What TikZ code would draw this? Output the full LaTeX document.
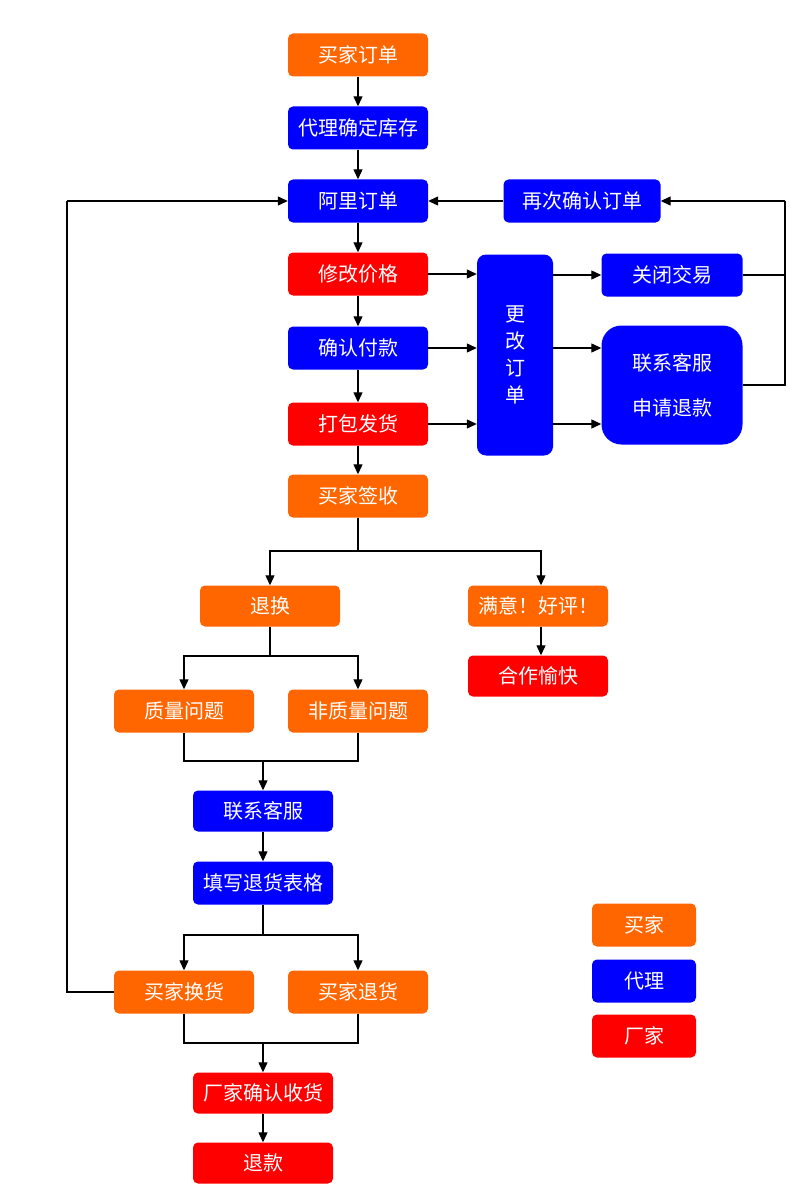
\documentclass[tikz,border=0pt]{standalone}
\usepackage{fontspec}
\setmainfont{Noto Sans CJK SC}
\usetikzlibrary{arrows.meta}
\definecolor{orgc}{HTML}{FF6600}
\definecolor{bluec}{HTML}{0000FF}
\definecolor{redc}{HTML}{FF0000}
\begin{document}
\begin{tikzpicture}[x=1pt,y=-1pt,
  box/.style={rounded corners=5pt, text=white, font=\fontsize{20}{24}\selectfont, minimum width=140pt, minimum height=43pt, inner sep=0pt},
  buyer/.style={box, fill=orgc},
  agent/.style={box, fill=bluec},
  maker/.style={box, fill=redc},
  arr/.style={-{Triangle[length=10pt,width=9pt]}, line width=1.2pt},
  ln/.style={line width=1.2pt}]
\useasboundingbox (0,0) rectangle (800,1201);
% main column
\node[buyer] (dingdan) at (358,55) {买家订单};
\node[agent] (kucun) at (358,128) {代理确定库存};
\node[agent] (ali) at (358,201) {阿里订单};
\node[maker] (xiugai) at (358,274) {修改价格};
\node[agent] (queren) at (358,348) {确认付款};
\node[maker] (dabao) at (358,424) {打包发货};
\node[buyer] (qianshou) at (358,496) {买家签收};
% right part
\node[agent, minimum width=157pt] (zaici) at (582,201) {再次确认订单};
\node[agent, minimum width=76pt, minimum height=201pt, rounded corners=9pt, align=center, font=\fontsize{20}{27}\selectfont] (genggai) at (515,355) {更\\改\\订\\单};
\node[agent, minimum width=141pt] (guanbi) at (672,275) {关闭交易};
\node[agent, minimum width=141pt, minimum height=119pt, rounded corners=20pt, align=center, font=\fontsize{20}{45}\selectfont] (kefu) at (672,385) {联系客服\\申请退款};
% lower part
\node[buyer, minimum height=41pt] (tuihuan) at (270,606) {退换};
\node[buyer, minimum height=41pt] (manyi) at (538,606) {满意！好评！};
\node[maker, minimum height=41pt] (yukuai) at (538,676) {合作愉快};
\node[buyer] (zhiliang) at (184,711) {质量问题};
\node[buyer] (feizhiliang) at (358,711) {非质量问题};
\node[agent, minimum height=41pt] (kefu2) at (263,811) {联系客服};
\node[agent] (biaoge) at (263,883) {填写退货表格};
\node[buyer] (huanhuo) at (184,992) {买家换货};
\node[buyer] (tuihuo) at (358,992) {买家退货};
\node[maker, minimum height=41pt] (shouhuo) at (263,1093) {厂家确认收货};
\node[maker, minimum height=41pt] (tuikuan) at (263,1163) {退款};
% legend
\node[buyer, minimum width=104pt] (lg1) at (644,925) {买家};
\node[agent, minimum width=104pt] (lg2) at (644,981) {代理};
\node[maker, minimum width=104pt] (lg3) at (644,1036) {厂家};
% main column arrows
\draw[arr] (dingdan) -- (kucun);
\draw[arr] (kucun) -- (ali);
\draw[arr] (ali) -- (xiugai);
\draw[arr] (xiugai) -- (queren);
\draw[arr] (queren) -- (dabao);
\draw[arr] (dabao) -- (qianshou);
% to genggai
\draw[arr] (xiugai.east) -- (xiugai.east -| genggai.west);
\draw[arr] (queren.east) -- (queren.east -| genggai.west);
\draw[arr] (dabao.east) -- (dabao.east -| genggai.west);
% from genggai
\draw[arr] (genggai.east |- guanbi) -- (guanbi.west);
\draw[arr] (genggai.east |- queren) -- (queren -| kefu.west);
\draw[arr] (genggai.east |- dabao) -- (dabao -| kefu.west);
% right loop
\coordinate (rt) at (785,201);
\draw[ln] (guanbi.east) -| (rt);
\draw[ln] (kefu.east) -| (rt);
\draw[arr] (rt) -- (zaici.east);
\draw[arr] (zaici.west) -- (ali.east);
% left loop
\coordinate (lt) at (67,201);
\draw[ln] (huanhuo.west) -| (lt);
\draw[arr] (lt) -- (ali.west);
% branch after qianshou
\coordinate (b1) at (358,551);
\draw[ln] (qianshou.south) -- (b1);
\draw[arr] (b1) -| (tuihuan.north);
\draw[arr] (b1) -| ([xshift=3pt]manyi.north);
\draw[arr] ([xshift=3pt]manyi.south) -- ([xshift=3pt]yukuai.north);
% branch after tuihuan
\coordinate (b2) at (270,656);
\draw[ln] (tuihuan.south) -- (b2);
\draw[arr] (b2) -| (zhiliang.north);
\draw[arr] (b2) -| (feizhiliang.north);
% join to kefu2
\coordinate (j1) at (263,761);
\draw[ln] (zhiliang.south) |- (j1);
\draw[ln] (feizhiliang.south) |- (j1);
\draw[arr] (j1) -- (kefu2.north);
\draw[arr] (kefu2) -- (biaoge);
% branch after biaoge
\coordinate (b3) at (263,935);
\draw[ln] (biaoge.south) -- (b3);
\draw[arr] (b3) -| (huanhuo.north);
\draw[arr] (b3) -| (tuihuo.north);
% join to shouhuo
\coordinate (j2) at (263,1043);
\draw[ln] (huanhuo.south) |- (j2);
\draw[ln] (tuihuo.south) |- (j2);
\draw[arr] (j2) -- (shouhuo.north);
\draw[arr] (shouhuo) -- (tuikuan);
\end{tikzpicture}
\end{document}
